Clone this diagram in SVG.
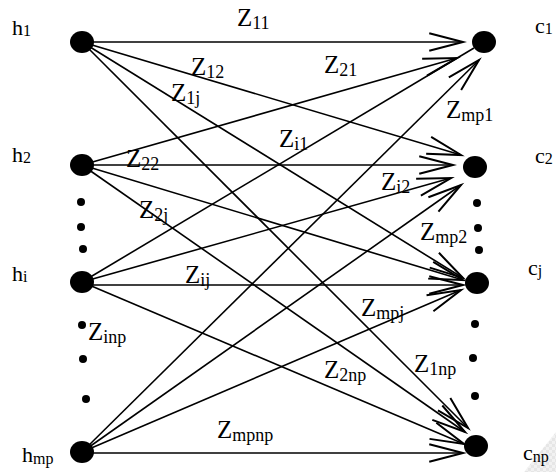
<svg xmlns="http://www.w3.org/2000/svg" width="556" height="472" viewBox="0 0 556 472">
<style>
.e{stroke:#000;stroke-width:1.6;fill:none}
.a{marker-end:url(#arr)}
.n{fill:#000}
.z{font-family:"Liberation Serif",serif;font-size:25px;fill:#000}
.l{font-family:"Liberation Serif",serif;font-size:22px;fill:#000}
.s{font-size:18px}
.t{font-size:16px}
</style>
<defs>
<marker id="arr" markerUnits="userSpaceOnUse" markerWidth="40" markerHeight="40" viewBox="-30 -10 32 20" refX="0" refY="0" orient="auto" overflow="visible">
<path d="M-27,-7 L0,0 L-27,7" fill="none" stroke="#000" stroke-width="1.6"/>
</marker>
<pattern id="chk" width="6" height="6" patternUnits="userSpaceOnUse">
<rect width="6" height="6" fill="#f2f2f2"/>
<rect width="3" height="3" fill="#e6e6e6"/>
<rect x="3" y="3" width="3" height="3" fill="#e6e6e6"/>
</pattern>
</defs>
<polygon points="556,432 524,472 556,472" fill="url(#chk)"/>
<g id="connectors">
<line class="e a" x1="82" y1="42" x2="463" y2="42"/>
<line class="e a" x1="82" y1="42" x2="461" y2="155"/>
<line class="e a" x1="82" y1="42" x2="463" y2="278"/>
<line class="e a" x1="82" y1="42" x2="468" y2="428"/>
<line class="e a" x1="82" y1="165" x2="457" y2="58"/>
<line class="e a" x1="82" y1="165" x2="453" y2="165"/>
<line class="e a" x1="82" y1="165" x2="463" y2="280"/>
<line class="e a" x1="82" y1="165" x2="465" y2="432"/>
<line class="e" x1="82" y1="282" x2="474" y2="48"/>
<line class="e a" x1="82" y1="282" x2="451" y2="178"/>
<line class="e a" x1="82" y1="285" x2="463" y2="285"/>
<line class="e a" x1="82" y1="282" x2="464" y2="444"/>
<line class="e a" x1="82" y1="452" x2="479" y2="60"/>
<line class="e a" x1="82" y1="452" x2="461" y2="185"/>
<line class="e a" x1="82" y1="452" x2="461" y2="290"/>
<line class="e a" x1="82" y1="453" x2="463" y2="453"/>
</g>
<g id="h1"><ellipse class="n" cx="82" cy="42" rx="12" ry="11"/><text class="l" x="12" y="35">h<tspan class="t" dy="1">1</tspan></text></g>
<g id="h2"><ellipse class="n" cx="82" cy="165" rx="12" ry="11"/><text class="l" x="12" y="162">h<tspan class="t" dy="1">2</tspan></text></g>
<g id="hi"><ellipse class="n" cx="82" cy="282" rx="12" ry="11"/><text class="l" x="12" y="281">h<tspan class="t" dy="1">i</tspan></text></g>
<g id="hmp"><ellipse class="n" cx="82" cy="452" rx="12" ry="11"/><text class="l" x="22" y="462">h<tspan class="t" dy="2">mp</tspan></text></g>
<g id="c1"><ellipse class="n" cx="484" cy="42" rx="12" ry="11"/><text class="l" x="535" y="33">c<tspan class="t" dy="1">1</tspan></text></g>
<g id="c2"><ellipse class="n" cx="475" cy="167" rx="12" ry="11"/><text class="l" x="535" y="163">c<tspan class="t" dy="1">2</tspan></text></g>
<g id="cj"><ellipse class="n" cx="477" cy="283" rx="12" ry="11"/><text class="l" x="528" y="275">c<tspan class="t" dy="1">j</tspan></text></g>
<g id="cnp"><ellipse class="n" cx="476" cy="446" rx="12" ry="11"/><text class="l" x="523" y="460">c<tspan class="t" dy="2">np</tspan></text></g>
<g id="dots">
<circle class="n" cx="81" cy="202" r="4"/><circle class="n" cx="81" cy="227" r="4"/><circle class="n" cx="83" cy="249" r="4"/>
<circle class="n" cx="82" cy="325" r="4"/><circle class="n" cx="83" cy="359" r="4"/><circle class="n" cx="86" cy="399" r="4"/>
<circle class="n" cx="477" cy="203" r="4"/><circle class="n" cx="478" cy="228" r="4"/><circle class="n" cx="479" cy="250" r="4"/>
<circle class="n" cx="475" cy="324" r="4"/><circle class="n" cx="473" cy="358" r="4"/><circle class="n" cx="475" cy="396" r="4"/>
</g>
<g id="labels">
<text class="z" x="237" y="26">Z<tspan class="s" dy="3">11</tspan></text>
<text class="z" x="191" y="75">Z<tspan class="s" dy="3">12</tspan></text>
<text class="z" x="324" y="73">Z<tspan class="s" dy="3">21</tspan></text>
<text class="z" x="171" y="101">Z<tspan class="s" dy="3">1j</tspan></text>
<text class="z" x="446" y="118">Z<tspan class="s" dy="3">mp1</tspan></text>
<text class="z" x="279" y="147">Z<tspan class="s" dy="3">i1</tspan></text>
<text class="z" x="126" y="167">Z<tspan class="s" dy="3">22</tspan></text>
<text class="z" x="139" y="218">Z<tspan class="s" dy="3">2j</tspan></text>
<text class="z" x="381" y="190">Z<tspan class="s" dy="3">i2</tspan></text>
<text class="z" x="420" y="240">Z<tspan class="s" dy="3">mp2</tspan></text>
<text class="z" x="185" y="283">Z<tspan class="s" dy="3">ij</tspan></text>
<text class="z" x="361" y="316">Z<tspan class="s" dy="3">mpj</tspan></text>
<text class="z" x="88" y="340">Z<tspan class="s" dy="3">inp</tspan></text>
<text class="z" x="324" y="378">Z<tspan class="s" dy="3">2np</tspan></text>
<text class="z" x="414" y="372">Z<tspan class="s" dy="3">1np</tspan></text>
<text class="z" x="217" y="438">Z<tspan class="s" dy="3">mpnp</tspan></text>
</g>
</svg>
